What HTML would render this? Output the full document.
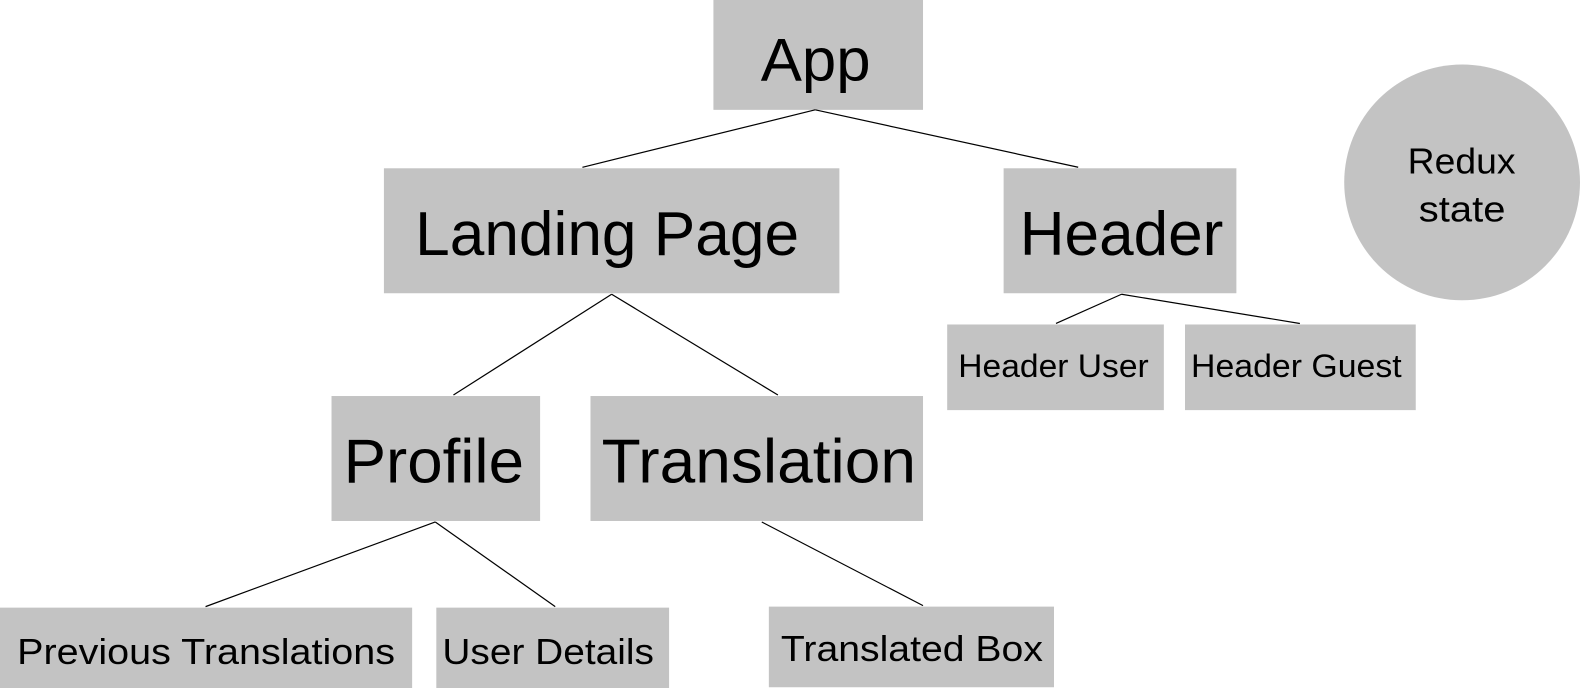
<!DOCTYPE html>
<html><head><meta charset="utf-8"><style>html,body{margin:0;padding:0;background:#fff}svg{display:block}text{font-family:"Liberation Sans",sans-serif;fill:#000}</style></head><body>
<svg width="1580" height="688" viewBox="0 0 1568 682.75" preserveAspectRatio="none" xmlns="http://www.w3.org/2000/svg">
<g fill="#c3c3c3">
<rect x="708" y="0" width="208" height="109"/>
<rect x="381" y="167" width="452" height="124"/>
<rect x="996" y="167" width="231" height="124"/>
<circle cx="1451" cy="181" r="117"/>
<rect x="940" y="322" width="215" height="85"/>
<rect x="1176" y="322" width="229" height="85"/>
<rect x="329" y="393" width="207" height="124"/>
<rect x="586" y="393" width="330" height="124"/>
<rect x="0" y="603" width="409" height="80"/>
<rect x="433" y="603" width="231" height="80"/>
<rect x="763" y="602" width="283" height="80"/>
</g>
<g stroke="#000" stroke-width="1.2" fill="none">
<line x1="809" y1="109" x2="578" y2="166"/>
<line x1="809" y1="109" x2="1070" y2="166"/>
<line x1="607" y1="292" x2="450" y2="392"/>
<line x1="607" y1="292" x2="772" y2="392"/>
<line x1="1113" y1="292" x2="1048" y2="321"/>
<line x1="1113" y1="292" x2="1290" y2="321"/>
<line x1="432" y1="518" x2="204" y2="602"/>
<line x1="432" y1="518" x2="551" y2="602"/>
<line x1="756" y1="518" x2="916" y2="601"/>
</g>
<g>
<text x="755" y="80" font-size="60" textLength="109" lengthAdjust="spacingAndGlyphs">App</text>
<text x="412" y="253" font-size="62" textLength="381" lengthAdjust="spacingAndGlyphs">Landing Page</text>
<text x="1012" y="253" font-size="62" textLength="202" lengthAdjust="spacingAndGlyphs">Header</text>
<text x="1397" y="172" font-size="36" textLength="107" lengthAdjust="spacingAndGlyphs">Redux</text>
<text x="1408" y="220" font-size="36" textLength="86" lengthAdjust="spacingAndGlyphs">state</text>
<text x="951" y="374" font-size="32" textLength="189" lengthAdjust="spacingAndGlyphs">Header User</text>
<text x="1182" y="374" font-size="32" textLength="209" lengthAdjust="spacingAndGlyphs">Header Guest</text>
<text x="341" y="479" font-size="62" textLength="179" lengthAdjust="spacingAndGlyphs">Profile</text>
<text x="597" y="479" font-size="62" textLength="312" lengthAdjust="spacingAndGlyphs">Translation</text>
<text x="17" y="659" font-size="36" textLength="375" lengthAdjust="spacingAndGlyphs">Previous Translations</text>
<text x="439" y="659" font-size="36" textLength="210" lengthAdjust="spacingAndGlyphs">User Details</text>
<text x="775" y="656" font-size="36" textLength="260" lengthAdjust="spacingAndGlyphs">Translated Box</text>
</g>
</svg>
</body></html>
